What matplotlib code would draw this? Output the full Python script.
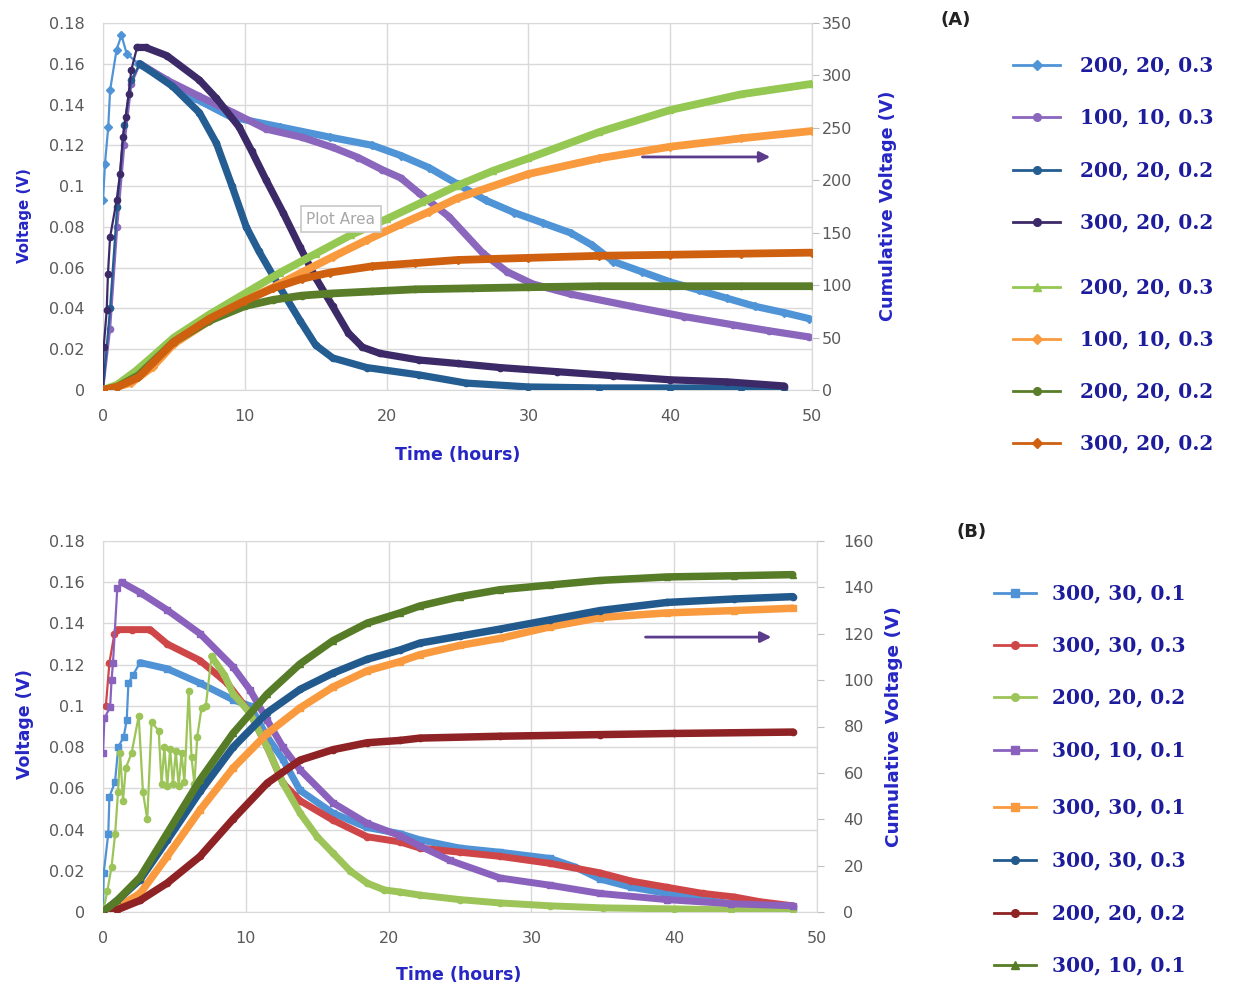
import matplotlib
matplotlib.use('Agg')
import matplotlib.pyplot as plt
from matplotlib.lines import Line2D

# ---------------- data ----------------
x_ticks = [0, 10, 20, 30, 40, 50]
v_ticks = [0, 0.02, 0.04, 0.06, 0.08, 0.1, 0.12, 0.14, 0.16, 0.18]
v_tick_labels = ['0', '0.02', '0.04', '0.06', '0.08', '0.1', '0.12', '0.14', '0.16', '0.18']
cumA_ticks = [0, 50, 100, 150, 200, 250, 300, 350]
cumB_ticks = [0, 20, 40, 60, 80, 100, 120, 140, 160]

# Panel A - voltage (left axis)
A1_t = [0, 0.14, 0.37, 0.5, 0.96, 1.3, 1.67, 2.5, 4.5, 6.5, 9, 12.5, 16, 19, 21, 23, 25, 27, 29, 31, 33,
        34.5, 36, 38, 40, 42, 44, 46, 48, 49.8]
A1_v = [0.093, 0.111, 0.129, 0.147, 0.167, 0.174, 0.165, 0.160, 0.152, 0.143, 0.134, 0.129, 0.124, 0.120,
        0.115, 0.109, 0.101, 0.093, 0.087, 0.082, 0.077, 0.071, 0.063, 0.058, 0.053, 0.049, 0.045, 0.041,
        0.038, 0.035]
A2_t = [0, 0.5, 1.0, 1.5, 2.0, 2.6, 4.5, 6.8, 9.2, 11.5, 14, 16.2, 18, 19.7, 21, 22.3, 24.4, 26.8, 28.5,
        30.3, 33, 37.3, 41, 44.4, 47, 49.8]
A2_v = [0, 0.03, 0.08, 0.12, 0.15, 0.16, 0.152, 0.144, 0.136, 0.128, 0.124, 0.119, 0.114, 0.108, 0.104,
        0.0965, 0.085, 0.067, 0.058, 0.052, 0.047, 0.041, 0.036, 0.032, 0.029, 0.026]
A3_t = [0, 0.5, 1.0, 1.5, 2.0, 2.6, 4.9, 6.8, 8.0, 9.1, 10.1, 11.0, 12.5, 13.9, 15.0, 16.2, 18.6, 22.3,
        25.6, 30, 35, 40, 45, 48]
A3_v = [0, 0.04, 0.09, 0.13, 0.152, 0.160, 0.149, 0.136, 0.121, 0.100, 0.080, 0.068, 0.050, 0.034,
        0.022, 0.0157, 0.011, 0.0074, 0.0034, 0.0015, 0.001, 0.001, 0.001, 0.001]
A4_t = [0, 0.05, 0.26, 0.35, 0.5, 0.96, 1.2, 1.4, 1.6, 1.8, 2.0, 2.4, 3.0, 4.5, 6.8, 8, 9.6, 10.5, 11.5,
        12.7, 13.9, 15, 16.2, 17.3, 18.3, 19.5, 22.3, 25, 28, 32, 36, 40, 44, 48]
A4_v = [0, 0.021, 0.039, 0.057, 0.075, 0.093, 0.106, 0.124, 0.134, 0.145, 0.157, 0.168, 0.168, 0.164,
        0.152, 0.143, 0.129, 0.117, 0.103, 0.087, 0.070, 0.055, 0.041, 0.028, 0.021, 0.018, 0.0147, 0.013,
        0.011, 0.009, 0.007, 0.005, 0.004, 0.002]

# Panel A - cumulative voltage (right axis)
A5_t = [0, 1, 2.3, 3.5, 5, 7.5, 10, 12.5, 15, 17.5, 20, 22.5, 25, 27.5, 30, 35, 40, 45, 50]
A5_v = [0, 5, 18, 32, 50, 72, 92, 112, 130, 148, 163, 179, 195, 209, 221, 246, 267, 282, 292]
A6_t = [0, 1, 2, 3.5, 5, 7.5, 10, 12, 14, 16.2, 18.6, 21, 23, 25, 30, 35, 40, 45, 50]
A6_v = [0, 3, 7, 22, 44, 66, 85, 98, 112, 127, 143, 158, 170, 183, 206, 221, 232, 240, 247]
A7_t = [0, 1, 2.5, 5, 7.5, 10, 12, 14, 16, 19, 22, 26, 30, 35, 40, 45, 50]
A7_v = [0, 3, 14, 46, 66, 80, 86, 90, 92, 94, 96, 97, 98, 99, 99, 99, 99]
A8_t = [0, 1, 2.5, 5, 7.5, 10, 12, 14, 16, 19, 22, 25, 30, 35, 40, 45, 50]
A8_v = [0, 3, 12, 46, 68, 85, 97, 106, 112, 118, 121, 124, 126, 128, 129, 130, 131]

# Panel B - voltage (left axis)
B1_t = [0, 0.05, 0.37, 0.45, 0.84, 1.07, 1.45, 1.66, 1.78, 2.1, 2.6, 4.5, 6.8, 9.1, 10.3, 11.5, 12.6,
        13.8, 16.1, 18.5, 20.8, 22.2, 25, 27.8, 31.3, 33, 34.8, 37, 39.5, 42, 44, 46, 48.3]
B1_v = [0, 0.019, 0.038, 0.056, 0.063, 0.080, 0.085, 0.093, 0.111, 0.115, 0.121, 0.118, 0.111, 0.103,
        0.100, 0.085, 0.074, 0.059, 0.048, 0.041, 0.038, 0.035, 0.031, 0.029, 0.026, 0.022, 0.016, 0.012,
        0.009, 0.006, 0.004, 0.003, 0.002]
B2_t = [0.2, 0.45, 0.8, 1.0, 2, 3.3, 4.5, 6.8, 8.7, 10.3, 11.5, 12.6, 13.8, 16.1, 18.5, 20.8, 22.2, 25,
        27.8, 31.3, 34.8, 37, 39.5, 42, 44.2, 46, 48.3]
B2_v = [0.100, 0.121, 0.135, 0.137, 0.137, 0.137, 0.130, 0.122, 0.111, 0.0965, 0.080, 0.0625, 0.054,
        0.0446, 0.0365, 0.034, 0.031, 0.029, 0.027, 0.0236, 0.019, 0.015, 0.012, 0.009, 0.0073, 0.005, 0.003]
B3_t = [0, 0.3, 0.6, 0.85, 1.05, 1.2, 1.4, 1.6, 2.0, 2.5, 2.8, 3.1, 3.4, 3.9, 4.1, 4.3, 4.5, 4.7, 4.9,
        5.1, 5.3, 5.5, 5.7, 6.0, 6.2, 6.4, 6.6, 6.9, 7.2, 7.6, 8.5, 9.1, 10.3, 11.5, 12.6, 13.8, 15, 16.1,
        17.3, 18.5, 19.7, 20.8, 22.2, 25, 27.8, 31.3, 35, 40, 44, 48.3]
B3_v = [0, 0.010, 0.022, 0.038, 0.058, 0.077, 0.054, 0.070, 0.077, 0.095, 0.058, 0.045, 0.092, 0.088,
        0.062, 0.080, 0.061, 0.079, 0.062, 0.078, 0.061, 0.077, 0.063, 0.107, 0.075, 0.062, 0.085, 0.099,
        0.100, 0.124, 0.115, 0.106, 0.0965, 0.080, 0.0625, 0.048, 0.0365, 0.0286, 0.020, 0.014, 0.0107,
        0.0097, 0.0082, 0.006, 0.0044, 0.003, 0.002, 0.0015, 0.001, 0.001]
B4_t = [0, 0.1, 0.5, 0.6, 0.7, 1.0, 1.3, 2.6, 4.5, 6.8, 9.1, 10.3, 11.5, 12.6, 13.8, 16.1, 18.5, 20.8,
        22.2, 24.3, 27.8, 31.3, 34.8, 39.5, 44, 48.3]
B4_v = [0.077, 0.094, 0.0995, 0.1126, 0.121, 0.157, 0.160, 0.155, 0.1465, 0.135, 0.119, 0.1077, 0.093,
        0.080, 0.069, 0.053, 0.043, 0.037, 0.032, 0.025, 0.0165, 0.013, 0.009, 0.006, 0.004, 0.003]

# Panel B - cumulative voltage (right axis)
B5_t = [0, 1, 2.6, 4.5, 6.8, 9.1, 11.5, 13.8, 16.1, 18.5, 20.8, 22.2, 25, 27.8, 31.3, 34.8, 39.5, 44.2, 48.3]
B5_v = [0, 2, 8, 24, 44, 62, 77, 88, 97, 104, 108, 111, 115, 118, 123, 127, 129, 130, 131]
B6_t = [0, 1, 2.6, 4.5, 6.8, 9.1, 11.5, 13.8, 16.1, 18.5, 20.8, 22.2, 25, 27.8, 31.3, 34.8, 39.5, 44.2, 48.3]
B6_v = [0, 5, 14, 31, 52, 71, 86, 96, 103, 109, 113, 116, 119, 122, 126, 130, 133.5, 135, 136]
B7_t = [0, 1, 2.6, 4.5, 6.8, 9.1, 11.5, 13.8, 16.1, 18.5, 20.8, 22.2, 27.8, 34.8, 40, 48.3]
B7_v = [0, 1, 5, 12.5, 24, 40, 55.6, 65.5, 70, 73, 74, 75, 75.8, 76.5, 77, 77.6]
B8_t = [0, 1, 2.6, 4.5, 6.8, 9.1, 11.5, 13.8, 16.1, 18.5, 20.8, 22.2, 25, 27.8, 31.3, 34.8, 39.5, 44.2, 48.3]
B8_v = [0, 5, 15, 34, 57, 77, 94, 107, 117, 124.6, 129, 132, 136, 139, 141, 143, 144.5, 145, 145.5]

labels_A = ['200, 20, 0.3', '100, 10, 0.3', '200, 20, 0.2', '300, 20, 0.2',
            '200, 20, 0.3', '100, 10, 0.3', '200, 20, 0.2', '300, 20, 0.2']
labels_B = ['300, 30, 0.1', '300, 30, 0.3', '200, 20, 0.2', '300, 10, 0.1',
            '300, 30, 0.1', '300, 30, 0.3', '200, 20, 0.2', '300, 10, 0.1']

# ---------------- styles ----------------
# (t, v, colour, marker, time from which the trace is drawn thick)
A_left = [(A1_t, A1_v, '#4f94d6', 'D', 2.4), (A2_t, A2_v, '#8a66bd', 'o', 2.4),
          (A3_t, A3_v, '#245d92', 'o', 2.4), (A4_t, A4_v, '#3c2a68', 'o', 2.4)]
A_right = [(A5_t, A5_v, '#94c852', '^', 0), (A6_t, A6_v, '#f99a3e', 'D', 0),
           (A7_t, A7_v, '#5a7d2a', 'o', 0), (A8_t, A8_v, '#cf6010', 'D', 0)]
B_left = [(B1_t, B1_v, '#4f92d6', 's', 2.5), (B2_t, B2_v, '#cf4648', 'o', 0.9),
          (B3_t, B3_v, '#9cc458', 'o', 7.6), (B4_t, B4_v, '#8a62bd', 's', 1.2)]
B_right = [(B5_t, B5_v, '#f99a3e', 's', 0), (B6_t, B6_v, '#235a8e', 'o', 0),
           (B7_t, B7_v, '#8e2224', 'o', 0), (B8_t, B8_v, '#567c28', '^', 0)]

W, H = 1233, 993
fig = plt.figure(figsize=(W / 100, H / 100), dpi=100)
fig.patch.set_facecolor('white')


def fx(px):
    return px / W


def fy(py):
    return 1 - py / H


GRID = '#d9d9d9'
TICKC = '#595959'
LABC = '#2626c4'
LEGC = '#1c1c9c'


def draw(ax, series, lw_thick):
    for t, v, c, m, th in series:
        ax.plot(t, v, color=c, lw=1.6, marker=m, ms=4.5, mec=c, mfc=c, zorder=3)
        idx = [i for i, tt in enumerate(t) if tt >= th]
        ax.plot([t[i] for i in idx], [v[i] for i in idx], color=c, lw=lw_thick,
                solid_capstyle='round', solid_joinstyle='round', zorder=3)


def setup(ax, ax2, rticks, rpad):
    ax.set_xlim(0, 50)
    ax.set_ylim(0, 0.18)
    ax.set_xticks(x_ticks)
    ax.set_yticks(v_ticks)
    ax.set_yticklabels(v_tick_labels)
    ax.grid(True, color=GRID, lw=1.0, zorder=0)
    ax.set_axisbelow(True)
    for s in ax.spines.values():
        s.set_color(GRID)
    ax.tick_params(axis='both', length=0, colors=TICKC, labelsize=11.5)
    ax.tick_params(axis='y', pad=13)
    ax.tick_params(axis='x', pad=14)
    ax2.set_ylim(rticks[0], rticks[-1])
    ax2.set_yticks(rticks)
    ax2.tick_params(axis='y', length=5, color='#bfbfbf', colors=TICKC, labelsize=11.5, pad=rpad)
    ax2.tick_params(axis='y', color='#bfbfbf')
    for s in ax2.spines.values():
        s.set_visible(False)
    ax2.spines['right'].set_visible(True)
    ax2.spines['right'].set_color(GRID)


# ---------- Panel A ----------
axA = fig.add_axes([fx(103), fy(390), (812 - 103) / W, (390 - 23) / H])
axA2 = axA.twinx()
setup(axA, axA2, cumA_ticks, 2)
draw(axA, A_left, 5.2)
draw(axA2, A_right, 5.6)
axA2.annotate('', xy=(0.945, 0.635), xytext=(0.757, 0.635), xycoords='axes fraction',
              arrowprops=dict(arrowstyle='-|>', color='#5a3b8c', lw=2, mutation_scale=16))

# ---------- Panel B ----------
axB = fig.add_axes([fx(103), fy(912), (817 - 103) / W, (912 - 541) / H])
axB2 = axB.twinx()
setup(axB, axB2, cumB_ticks, 14)
draw(axB, B_left, 5.0)
draw(axB2, B_right, 5.4)
axB2.annotate('', xy=(0.94, 0.741), xytext=(0.756, 0.741), xycoords='axes fraction',
              arrowprops=dict(arrowstyle='-|>', color='#5a3b8c', lw=2, mutation_scale=16))

# ---------- axis titles ----------
fig.text(fx(25), fy(216), 'Voltage (V)', rotation=90, ha='center', va='center',
         fontsize=10.8, fontweight='bold', color=LABC)
fig.text(fx(888), fy(206), 'Cumulative Voltage (V)', rotation=90, ha='center', va='center',
         fontsize=12.7, fontweight='bold', color=LABC)
fig.text(fx(458), fy(455), 'Time (hours)', ha='center', va='center',
         fontsize=12.5, fontweight='bold', color=LABC)

fig.text(fx(25), fy(724), 'Voltage (V)', rotation=90, ha='center', va='center',
         fontsize=12.5, fontweight='bold', color=LABC)
fig.text(fx(894), fy(727), 'Cumulative Voltage (V)', rotation=90, ha='center', va='center',
         fontsize=13.3, fontweight='bold', color=LABC)
fig.text(fx(459), fy(975), 'Time (hours)', ha='center', va='center',
         fontsize=12.5, fontweight='bold', color=LABC)

# ---------- panel tags ----------
fig.text(fx(956), fy(20), '(A)', ha='center', va='center', fontsize=13, fontweight='bold', color='#222222')
fig.text(fx(972), fy(532), '(B)', ha='center', va='center', fontsize=13, fontweight='bold', color='#222222')

# ---------- "Plot Area" tooltip ----------
fig.text(fx(341), fy(219), 'Plot Area', ha='center', va='center', fontsize=11, color='#a8a8a8',
         bbox=dict(boxstyle='square,pad=0.35', fc='white', ec='#c8c8c8', lw=1.2), zorder=10)


# ---------- legends ----------
def legend(series, labels, ys, x0, x1, xt):
    for (t, v, c, m, th), lab, y in zip(series, labels, ys):
        xm = (x0 + x1) / 2
        fig.add_artist(Line2D([fx(x0), fx(xm), fx(x1)], [fy(y), fy(y), fy(y)], transform=fig.transFigure,
                              color=c, lw=2.0, marker=m, ms=5.5, markevery=[1], mec=c, mfc=c))
        fig.text(fx(xt), fy(y), lab, ha='left', va='center', fontsize=14.5, fontweight='bold',
                 family='DejaVu Serif', color=LEGC)


legend(A_left + A_right, labels_A, [65, 117, 170, 222, 287, 339, 391, 443], 1013, 1060, 1080)
legend(B_left + B_right, labels_B, [593, 645, 697, 750, 807, 860, 913, 965], 994, 1036, 1052)

fig.savefig('out.png', dpi=100)
